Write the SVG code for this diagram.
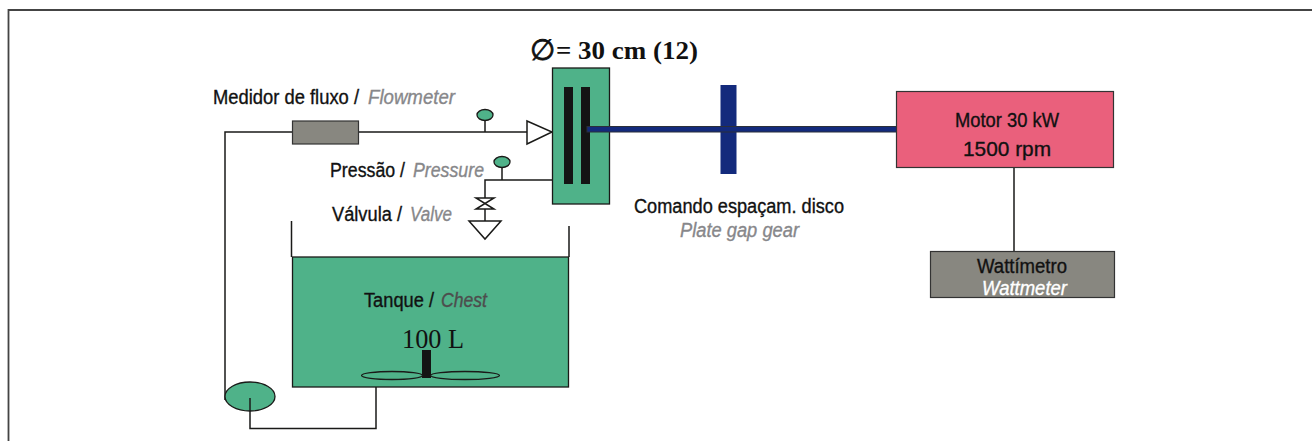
<svg xmlns="http://www.w3.org/2000/svg" width="1312" height="441" viewBox="0 0 1312 441">
<style>
.l{fill:none;stroke:#1a1a18;stroke-width:1.5}
.g{fill:#4fb289;stroke:#1a1a18;stroke-width:1.3}
.t{font-family:"Liberation Sans",Arial,sans-serif;font-size:20px;fill:#111;stroke:#111;stroke-width:.35}
.i{font-style:italic;fill:#87878a;stroke:#87878a}
.s{font-family:"Liberation Serif",serif;fill:#111}
</style>
<rect width="1312" height="441" fill="#fff"/>
<path id="frame" d="M8.500 441V10H1312" fill="none" stroke="#444" stroke-width="1.800"/>
<g id="connectors">
<path class="l" d="M225 400V132H292M359 132H527M485 132V118M553 180H485V198M502 180V167M485 209V221M1014 167V252M291.500 221V257M569 226V257M250 398V428.500H376V387"/>
</g>
<g id="flowmeter"><rect x="292.500" y="121" width="66" height="23" fill="#888780" stroke="#333" stroke-width="1.200"/><text class="t" x="213" y="104" textLength="146" lengthAdjust="spacingAndGlyphs">Medidor de fluxo /</text><text class="t i" x="368" y="104" textLength="87" lengthAdjust="spacingAndGlyphs">Flowmeter</text></g>
<g id="gauge1"><ellipse cx="485" cy="115" rx="8" ry="5.500" class="g"/></g>
<g id="gauge2"><ellipse cx="502" cy="162" rx="8" ry="5.500" class="g"/><text class="t" x="330" y="177" textLength="75" lengthAdjust="spacingAndGlyphs">Pressão /</text><text class="t i" x="413" y="177" textLength="71" lengthAdjust="spacingAndGlyphs">Pressure</text></g>
<g id="nozzle"><path d="M527 121L552 132L527 144Z" fill="#fff" stroke="#1a1a18" stroke-width="1.500"/></g>
<g id="valve"><path class="l" d="M476 198H494L476 209H494Z"/><path d="M469 221H501L485 239Z" fill="#fff" stroke="#1a1a18" stroke-width="1.500"/><text class="t" x="332" y="221" textLength="70" lengthAdjust="spacingAndGlyphs">Válvula /</text><text class="t i" x="410" y="221" textLength="42" lengthAdjust="spacingAndGlyphs">Valve</text></g>
<g id="refiner"><rect x="552.500" y="68" width="57" height="136" class="g"/><rect x="564" y="87" width="9" height="97" fill="#141414"/><rect x="581" y="87" width="9" height="97" fill="#141414"/>
<text x="530" y="60" font-family="DejaVu Sans,sans-serif" font-size="29" fill="#111" stroke="#111" stroke-width=".8">∅</text><text x="556" y="59" font-family="Liberation Serif,serif" font-weight="bold" font-size="25" fill="#111" textLength="142" lengthAdjust="spacingAndGlyphs">= 30 cm (12)</text></g>
<g id="shaft"><rect x="720.500" y="85" width="16" height="89" fill="#132a7c"/><rect x="587" y="126.500" width="310" height="5.500" fill="#132a7c" stroke="#2b2f3a" stroke-width="1"/></g>
<g id="gear-label"><text class="t" x="634" y="213" textLength="210" lengthAdjust="spacingAndGlyphs">Comando espaçam. disco</text><text class="t i" x="680" y="237" textLength="119" lengthAdjust="spacingAndGlyphs">Plate gap gear</text></g>
<g id="motor"><rect x="896.500" y="91.500" width="217" height="76" fill="#ea607c" stroke="#333" stroke-width="1.200"/><text class="t" x="955" y="127" textLength="104" lengthAdjust="spacingAndGlyphs">Motor 30 kW</text><text class="t" x="963" y="156" textLength="88" lengthAdjust="spacingAndGlyphs" style="font-size:21px">1500 rpm</text></g>
<g id="wattmeter"><rect x="930.500" y="251.500" width="184" height="46" fill="#888780" stroke="#333" stroke-width="1.200"/><text class="t" x="977" y="273" textLength="90" lengthAdjust="spacingAndGlyphs">Wattímetro</text><text class="t i" x="982" y="295" textLength="85" lengthAdjust="spacingAndGlyphs" style="fill:#fff;stroke:#fff">Wattmeter</text></g>
<g id="chest"><rect x="292.500" y="257" width="276" height="130" fill="#4fb289" stroke="#1a1a18" stroke-width="1.300"/><text class="t" x="364" y="307" textLength="70" lengthAdjust="spacingAndGlyphs">Tanque /</text><text class="t i" x="441" y="307" textLength="46" lengthAdjust="spacingAndGlyphs" style="fill:#4d4d4d;stroke:#4d4d4d">Chest</text><text class="s" x="402" y="348" font-size="27" textLength="62" lengthAdjust="spacingAndGlyphs">100 L</text><rect x="422" y="350" width="9" height="28" fill="#141414"/><ellipse cx="392" cy="375.500" rx="30.500" ry="4" fill="none" stroke="#1a1a18" stroke-width="1.300"/><ellipse cx="465" cy="375.500" rx="34.500" ry="4" fill="none" stroke="#1a1a18" stroke-width="1.300"/></g>
<g id="pump"><ellipse cx="250" cy="396.500" rx="25" ry="14.500" class="g"/><path class="l" d="M250 398V411"/></g>
</svg>
